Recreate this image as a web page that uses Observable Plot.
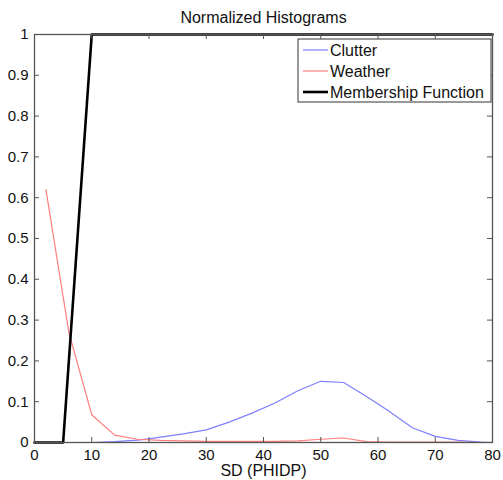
<!DOCTYPE html>
<html>
<head>
<meta charset="utf-8">
<script src="https://cdn.jsdelivr.net/npm/d3@7"></script>
<script src="https://cdn.jsdelivr.net/npm/@observablehq/plot@0.6"></script>
<style>
  html, body { margin: 0; padding: 0; background: #fff; }
  #chart { width: 503px; height: 480px; }
  svg { font-family: "Liberation Sans", Arial, Helvetica, sans-serif; }
</style>
</head>
<body>
<div id="chart"></div>
<script>
// ---- data ----
const clutterX = [7, 10, 14, 18, 20, 22, 26, 30, 34, 38, 42, 46, 50, 54, 58, 62, 66, 70, 74, 78, 80];
const clutterY = [0, 0, 0.002, 0.006, 0.009, 0.013, 0.021, 0.031, 0.05, 0.072, 0.097, 0.127, 0.150, 0.147, 0.113, 0.076, 0.036, 0.015, 0.005, 0.001, 0];
const weatherX = [2, 6, 10, 14, 18, 22, 26, 30, 34, 38, 42, 46, 50, 54, 58, 62, 66, 70, 74, 78, 80];
const weatherY = [0.62, 0.27, 0.068, 0.018, 0.008, 0.005, 0.004, 0.003, 0.003, 0.003, 0.003, 0.004, 0.008, 0.011, 0.002, 0.001, 0.001, 0.001, 0.001, 0, 0];
const memberX = [0, 5, 10, 80];
const memberY = [0, 0, 1, 1];
const xTicks = [0, 10, 20, 30, 40, 50, 60, 70, 80];
const yTicks = [0, 0.1, 0.2, 0.3, 0.4, 0.5, 0.6, 0.7, 0.8, 0.9, 1];
const seriesNames = ["Clutter", "Weather", "Membership Function"];
const seriesColors = ["#7f7fff", "#ff7f7f", "#000000"];
const titleText = "Normalized Histograms";
const xLabel = "SD (PHIDP)";

const toRows = (xs, ys) => xs.map((x, i) => ({x, y: ys[i]}));
const clutter = toRows(clutterX, clutterY);
const weather = toRows(weatherX, weatherY);
const member = toRows(memberX, memberY);

const W = 503, H = 480;
const mT = 34, mB = 38, mL = 34, mR = 11;
const plotH = H - mT - mB, plotW = W - mL - mR;
const tick = 5;
const frameColor = "#555";

const chart = Plot.plot({
  width: W, height: H,
  marginTop: mT, marginBottom: mB, marginLeft: mL, marginRight: mR,
  style: {fontSize: "15px", fontFamily: "'Liberation Sans', Arial, Helvetica, sans-serif", color: "#111", background: "#fff"},
  x: {domain: [0, 80]},
  y: {domain: [0, 1]},
  marks: [
    Plot.line(clutter, {x: "x", y: "y", stroke: seriesColors[0], strokeWidth: 1.2}),
    Plot.line(weather, {x: "x", y: "y", stroke: seriesColors[1], strokeWidth: 1.2}),
    Plot.line(member, {x: "x", y: "y", stroke: seriesColors[2], strokeWidth: 2.6}),
    Plot.frame({stroke: frameColor, strokeWidth: 1.3}),
    // inward ticks
    Plot.tickX(xTicks, {x: d => d, insetTop: plotH - tick, stroke: frameColor}),
    Plot.tickX(xTicks, {x: d => d, insetBottom: plotH - tick, stroke: frameColor}),
    Plot.tickY(yTicks, {y: d => d, insetRight: plotW - tick, stroke: frameColor}),
    Plot.tickY(yTicks, {y: d => d, insetLeft: plotW - tick, stroke: frameColor}),
    Plot.axisX(xTicks, {tickSize: 0, tickPadding: 7, label: null, tickFormat: d => String(d)}),
    Plot.axisY(yTicks, {tickSize: 0, tickPadding: 6, label: null, tickFormat: d => String(+d.toFixed(1))}),
    Plot.text([xLabel], {frameAnchor: "bottom", dy: 28, lineAnchor: "middle", fontSize: 16, fill: "#111"}),
    Plot.text([titleText], {frameAnchor: "top", dy: -17, lineAnchor: "middle", fontSize: 16, fill: "#111"})
  ]
});
document.getElementById("chart").appendChild(chart);

// legend (inside the plot area, top-right)
const svg = d3.select(chart);
const lg = svg.append("g").attr("transform", "translate(298,39)").attr("text-anchor", "start");
lg.append("rect").attr("x", 0).attr("y", 0).attr("width", 193).attr("height", 63)
  .attr("fill", "#fff").attr("stroke", frameColor).attr("stroke-width", 1.2);
seriesNames.forEach((name, i) => {
  const y = 11 + i * 21;
  lg.append("line").attr("x1", 5).attr("x2", 30).attr("y1", y).attr("y2", y)
    .attr("stroke", seriesColors[i]).attr("stroke-width", i === 2 ? 2.6 : 1.2);
  lg.append("text").attr("x", 32).attr("y", y).attr("dy", "0.35em")
    .attr("text-anchor", "start")
    .attr("font-size", 16).attr("fill", "#111").text(name);
});
</script>
</body>
</html>
